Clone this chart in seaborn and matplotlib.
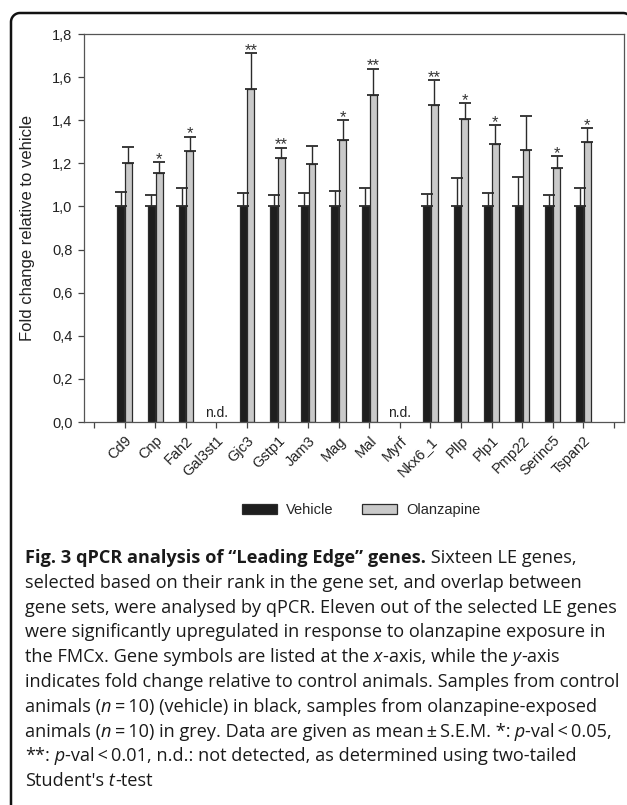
import numpy as np
import pandas as pd
import matplotlib
matplotlib.use('Agg')
import matplotlib.pyplot as plt
import seaborn as sns
from matplotlib.lines import Line2D

# qPCR fold change, mean and S.E.M.
genes = ['Cd9', 'Cnp', 'Fah2', 'Gal3st1', 'Gjc3', 'Gstp1', 'Jam3', 'Mag',
         'Mal', 'Myrf', 'Nkx6_1', 'Pllp', 'Plp1', 'Pmp22', 'Serinc5', 'Tspan2']
nan = np.nan
vehicle_mean = [1.0, 1.0, 1.0, nan, 1.0, 1.0, 1.0, 1.0,
                1.0, nan, 1.0, 1.0, 1.0, 1.0, 1.0, 1.0]
vehicle_sem = [0.067, 0.051, 0.084, nan, 0.062, 0.054, 0.062, 0.071,
               0.085, nan, 0.056, 0.131, 0.062, 0.136, 0.051, 0.084]
olanzapine_mean = [1.203, 1.153, 1.258, nan, 1.546, 1.226, 1.195, 1.308,
                   1.518, nan, 1.472, 1.407, 1.292, 1.261, 1.179, 1.299]
olanzapine_sem = [0.071, 0.051, 0.065, nan, 0.166, 0.046, 0.087, 0.093,
                  0.121, nan, 0.113, 0.071, 0.084, 0.157, 0.055, 0.064]
signif = ['', '*', '*', '', '**', '**', '', '*',
          '**', '', '**', '*', '*', '', '*', '*']
not_detected = ['Gal3st1', 'Myrf']
groups = ['Vehicle', 'Olanzapine']
colors = {'Vehicle': '#1e1e1e', 'Olanzapine': '#c9c9c9'}
yticks = [0.0, 0.2, 0.4, 0.6, 0.8, 1.0, 1.2, 1.4, 1.6, 1.8]

ts = '\u2009'  # thin space
caption = [
    [("Fig. 3 qPCR analysis of \u201cLeading Edge\u201d genes.", 'b'), (" Sixteen LE genes,", 'n')],
    [("selected based on their rank in the gene set, and overlap between", 'n')],
    [("gene sets, were analysed by qPCR. Eleven out of the selected LE genes", 'n')],
    [("were significantly upregulated in response to olanzapine exposure in", 'n')],
    [("the FMCx. Gene symbols are listed at the", 'n'), (" x", 'i'), ("-axis, while the", 'n'),
     (" y", 'i'), ("-axis", 'n')],
    [("indicates fold change relative to control animals. Samples from control", 'n')],
    [("animals (", 'n'), ("n", 'i'), (f"{ts}={ts}10) (vehicle) in black, samples from olanzapine-exposed", 'n')],
    [("animals (", 'n'), ("n", 'i'), (f"{ts}={ts}10) in grey. Data are given as mean{ts}\u00b1{ts}S.E.M. *:", 'n'),
     (" p", 'i'), (f"-val{ts}<{ts}0.05,", 'n')],
    [("**:", 'n'), (" p", 'i'), (f"-val{ts}<{ts}0.01, n.d.: not detected, as determined using two-tailed", 'n')],
    [("Student's", 'n'), (" t", 'i'), ("-test", 'n')],
]

sns.set_theme(style='ticks')
plt.rcParams['font.family'] = ['Liberation Sans', 'DejaVu Sans']

W, H = 627, 805
fig = plt.figure(figsize=(W / 100, H / 100), dpi=100)
ax = fig.add_axes([84 / W, 1 - 422 / H, 540 / W, 388 / H])

df = pd.DataFrame({
    'gene': genes * 2,
    'group': [groups[0]] * len(genes) + [groups[1]] * len(genes),
    'value': vehicle_mean + olanzapine_mean,
})
sns.barplot(data=df, x='gene', y='value', hue='group', order=genes,
            hue_order=groups, palette=colors, saturation=1, width=0.5, gap=0.1,
            edgecolor='#2b2b2b', linewidth=0.9, errorbar=None, ax=ax)

# one-sided error bars + significance stars
sems = {groups[0]: vehicle_sem, groups[1]: olanzapine_sem}
for grp, cont in zip(groups, ax.containers):
    for bar in cont:
        xc = bar.get_x() + bar.get_width() / 2
        i = int(round(xc))
        h = bar.get_height()
        s = sems[grp][i]
        ax.errorbar(xc, h, yerr=[[0], [s]], fmt='none', ecolor='#2b2b2b',
                    elinewidth=1.0, capsize=4.6, capthick=1.3, zorder=1)
        if grp == 'Olanzapine' and signif[i]:
            ax.text(xc, h + s - 0.008, signif[i], ha='center', va='baseline',
                    fontsize=12, color='#333333')

for g in not_detected:
    ax.text(genes.index(g), 0.025, 'n.d.', ha='center', va='baseline',
            fontsize=10, color='#222222')

ax.set_xlim(-1.33, len(genes) + 0.33)
ax.set_ylim(0, 1.8)
ax.set_xticks(range(-1, len(genes) + 1))
ax.set_xticklabels([''] + genes + [''], rotation=45, ha='right',
                   rotation_mode='anchor', fontsize=10.5, color='#222222')
ax.set_yticks(yticks)
ax.set_yticklabels([f"{v:.1f}".replace('.', ',') for v in yticks],
                   fontsize=10.5, color='#222222')
ax.tick_params(axis='both', direction='out', length=4.3, width=0.9,
               color='#444444', pad=4)
ax.set_xlabel('')
ax.set_ylabel('Fold change relative to vehicle', fontsize=12, color='#222222')
ax.yaxis.set_label_coords(-0.09, 0.5)
for sp in ax.spines.values():
    sp.set_color('#555555')
    sp.set_linewidth(0.9)

leg = ax.legend_
handles = leg.legend_handles
labels = [t.get_text() for t in leg.texts]
leg.remove()
fig.legend(handles, labels, loc='center', bbox_to_anchor=(361 / W, 1 - 510 / H),
           ncol=2, frameon=False, fontsize=10.5, handlelength=2.4,
           handleheight=0.7, handletextpad=0.6, columnspacing=2.0)

# rounded panel border: left side, top-left corner, top side, start of top-right corner
r = 9
left, top, right = 11, 13, 632
t1 = np.linspace(np.pi, np.pi / 2, 20)
t2 = np.linspace(np.pi / 2, 0, 20)
bx = np.concatenate([[left], left + r + r * np.cos(t1), right - r + r * np.cos(t2)])
by = np.concatenate([[H + 5], top + r - r * np.sin(t1), top + r - r * np.sin(t2)])
fig.add_artist(Line2D(bx / W, 1 - by / H, transform=fig.transFigure,
                      color='#111111', lw=1.8, solid_capstyle='butt'))

# caption
renderer = fig.canvas.get_renderer()
cap_size = 13.1
for k, runs in enumerate(caption):
    y = 1 - (563 + k * 24.8) / H
    x = 25
    for text, style in runs:
        t = fig.text(x / W, y, text, fontsize=cap_size,
                     family=['Open Sans', 'DejaVu Sans'],
                     fontweight='bold' if style == 'b' else 'normal',
                     fontstyle='italic' if style == 'i' else 'normal',
                     ha='left', va='baseline', color='#1a1a1a')
        x += t.get_window_extent(renderer).width

fig.savefig('out.png', dpi=100)
